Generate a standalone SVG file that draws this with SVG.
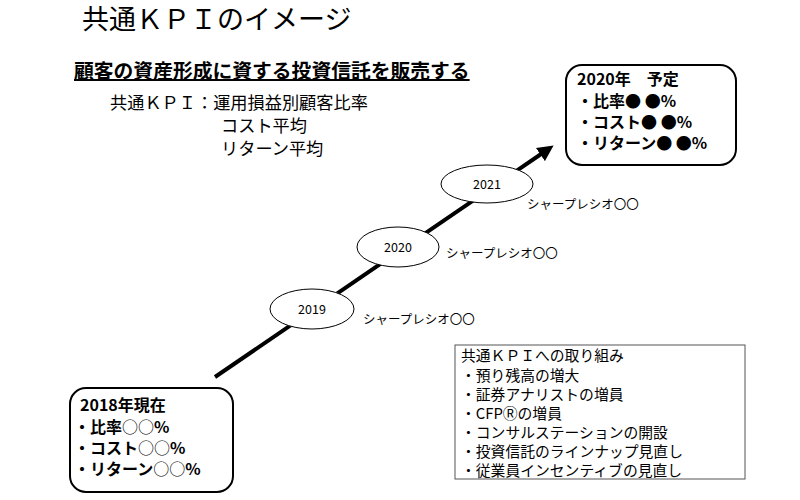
<svg xmlns="http://www.w3.org/2000/svg" width="800" height="500" viewBox="0 0 800 500">
<style>
text{font-family:"Noto Sans CJK JP","Liberation Sans",sans-serif;fill:#000}
.b{font-weight:bold;font-size:16px}
.s{font-size:12.5px}
.n{font-size:14.8px}
.ell{fill:#fff;stroke:#000;stroke-width:1}
</style>
<defs><marker id="ah" markerWidth="4" markerHeight="4" refX="2" refY="2" orient="auto"><path d="M0,0L4,2L0,4z" fill="#000"/></marker></defs>
<rect width="800" height="500" fill="#fff"/>
<text x="82" y="29" font-size="27">共通ＫＰＩのイメージ</text>
<text x="74" y="78" font-size="19.8" font-weight="bold" text-decoration="underline">顧客の資産形成に資する投資信託を販売する</text>
<g font-size="17.2"><text x="110" y="109">共通ＫＰＩ：運用損益別顧客比率</text><text x="221" y="132">コスト平均</text><text x="221" y="155">リターン平均</text></g>
<g id="connectors"><line x1="215" y1="377" x2="547" y2="150" stroke="#000" stroke-width="4" marker-end="url(#ah)"/></g>
<g id="y2019"><ellipse class="ell" cx="312" cy="309" rx="42" ry="20"/><text x="312" y="314" text-anchor="middle" class="s">2019</text><text x="363" y="324" class="s">シャープレシオ〇〇</text></g>
<g id="y2020"><ellipse class="ell" cx="398" cy="247" rx="41" ry="20"/><text x="398" y="252" text-anchor="middle" class="s">2020</text><text x="446" y="258" class="s">シャープレシオ〇〇</text></g>
<g id="y2021"><ellipse class="ell" cx="487" cy="184" rx="46" ry="19"/><text x="487" y="189" text-anchor="middle" class="s">2021</text><text x="527" y="209" class="s">シャープレシオ〇〇</text></g>
<g id="target"><rect x="566" y="65" width="170" height="100" rx="16" fill="#fff" stroke="#000" stroke-width="2"/>
<text x="577" y="85" class="b">2020年　予定</text><text x="577" y="107" class="b">・比率● ●%</text><text x="577" y="128" class="b">・コスト● ●%</text><text x="577" y="149" class="b">・リターン● ●%</text></g>
<g id="current"><rect x="70" y="388" width="163" height="104" rx="16" fill="#fff" stroke="#000" stroke-width="2"/>
<text x="80" y="411" class="b">2018年現在</text><text x="74" y="433" class="b">・比率<tspan font-weight="normal">○○</tspan>%</text><text x="74" y="454" class="b">・コスト<tspan font-weight="normal">○○</tspan>%</text><text x="74" y="475" class="b">・リターン<tspan font-weight="normal">○○</tspan>%</text></g>
<g id="efforts"><rect x="455" y="345" width="290" height="134" fill="#fff" stroke="#555" stroke-width="1"/>
<text x="461" y="361" class="n">共通ＫＰＩへの取り組み</text><text x="461" y="381" class="n">・預り残高の増大</text><text x="461" y="400" class="n">・証券アナリストの増員</text><text x="461" y="419" class="n">・CFPⓇの増員</text><text x="461" y="438" class="n">・コンサルステーションの開設</text><text x="461" y="457" class="n">・投資信託のラインナップ見直し</text><text x="461" y="476" class="n">・従業員インセンティブの見直し</text></g>
</svg>
